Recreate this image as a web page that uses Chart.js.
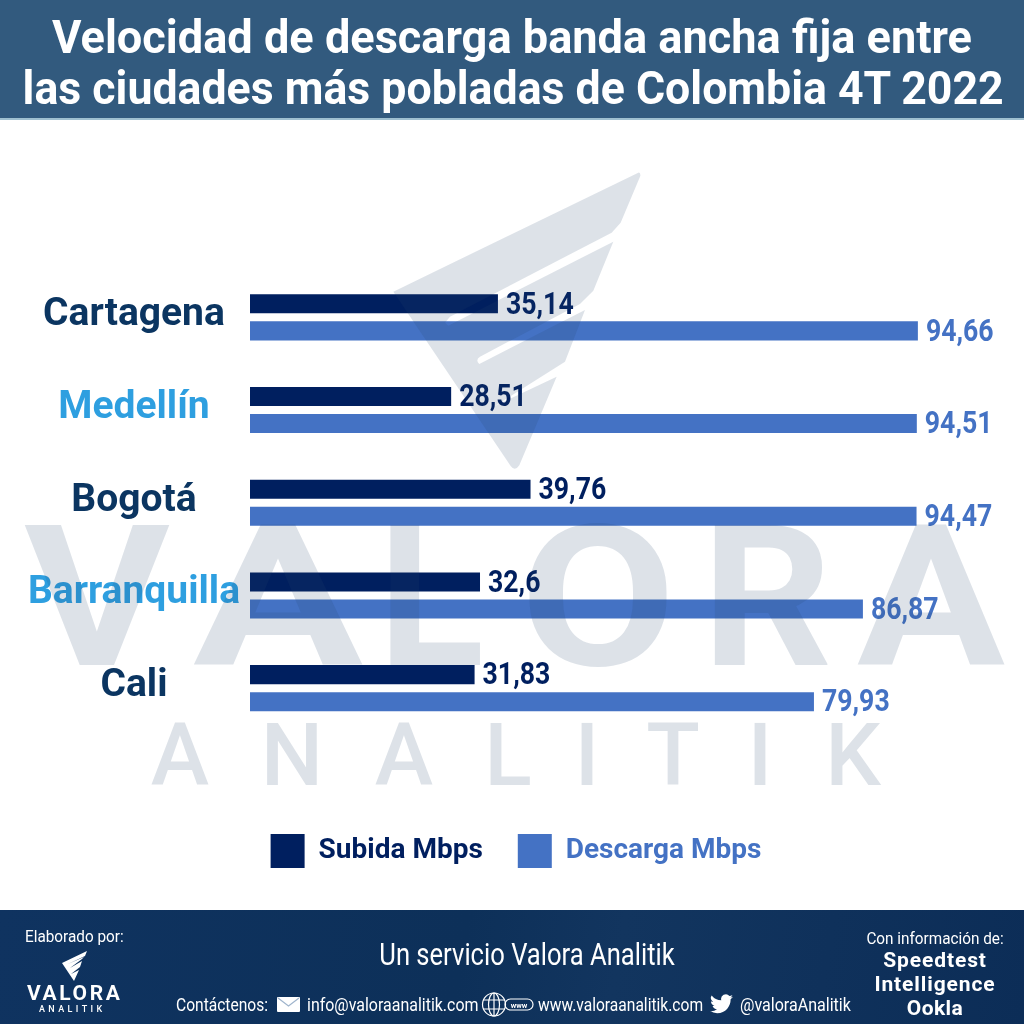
<!DOCTYPE html>
<html>
<head>
<meta charset="utf-8">
<script src="https://cdn.jsdelivr.net/npm/chart.js@4"></script>
<style>
  html, body { margin: 0; padding: 0; background: #fff; }
  #page { position: relative; width: 1024px; height: 1024px; overflow: hidden; font-family: Roboto, sans-serif; }
  #myChart { position: absolute; left: 0; top: 0; }
  #mark { position: absolute; left: 0; top: 0; pointer-events: none; }
  #header { position: absolute; left: 0; top: 0; width: 1024px; height: 118px; background: #325a7e; border-bottom: 2px solid #9fc0d0; }
  #footer { position: absolute; left: 0; top: 910px; width: 1024px; height: 114px; background: linear-gradient(100deg, #0f3360 0%, #0d3059 45%, #12355f 60%, #0c2d57 100%); }
  .t { position: absolute; white-space: nowrap; color: #fff; transform-origin: center; }
  #mark .big { font-family: Roboto; font-weight: 700; font-size: 197px; }
</style>
</head>
<body>
<div id="page">
  <canvas id="myChart" width="1024" height="1024"></canvas>

  <!-- marca de agua encima de las barras -->
  <svg id="mark" width="1024" height="1024" viewBox="0 0 1024 1024">
    <g fill="rgb(40,70,110)" fill-opacity="0.155">
      <g transform="translate(380 160) scale(0.3333)">
        <path fill-rule="evenodd" d="M775,38 L40,395 L392,918 Q405,936 418,916 L530,650 L345,738 L555,605 L615,450 L298,612 Q285,600 300,590 L600,432 L640,392 L700,245 L205,497 L195,488 L210,470 L695,218 L722,188 L781,48 Q782,36 775,38 Z"/>
      </g>
      <text class="big" y="665" x="24" textLength="146" lengthAdjust="spacingAndGlyphs">V</text>
      <text class="big" y="665" x="193" textLength="170" lengthAdjust="spacingAndGlyphs">A</text>
      <text class="big" y="665" x="378" textLength="106" lengthAdjust="spacingAndGlyphs">L</text>
      <text class="big" y="665" x="520" textLength="156" lengthAdjust="spacingAndGlyphs">O</text>
      <text class="big" y="665" x="702" textLength="130" lengthAdjust="spacingAndGlyphs">R</text>
      <text class="big" y="665" x="857" textLength="148" lengthAdjust="spacingAndGlyphs">A</text>
      <text y="785" font-family="Roboto" font-weight="500" font-size="88" text-anchor="middle" x="180 292 404 508 587 673 760 853">ANALITIK</text>
    </g>
  </svg>

  <div id="header">
    <div class="t" style="left:0;width:1024px;text-align:center;top:10px;font-size:47px;line-height:54px;font-weight:700;transform:scaleX(0.96)">Velocidad de descarga banda ancha fija entre</div>
    <div class="t" style="left:-3px;width:1024px;text-align:center;top:61px;font-size:47px;line-height:54px;font-weight:700;transform:scaleX(0.95)">las ciudades más pobladas de Colombia 4T 2022</div>
  </div>

  <div id="footer">
    <div class="t" style="left:25px;top:16px;font-size:17px;transform:scaleX(0.9);transform-origin:left">Elaborado por:</div>
    <svg style="position:absolute;left:60px;top:40px" width="28" height="32" viewBox="0 0 28 32"><path fill="#fff" d="M27,1 L2,13 L14,31 L19,20 L11,24 L20,17 L22,11 L10,18 L22,9 L24,7 L8,14 L25,6 Z"/></svg>
    <div class="t" style="left:27px;top:71px;font-size:21px;font-weight:700;letter-spacing:2.6px">VALORA</div>
    <div class="t" style="left:39px;top:94px;font-size:9px;font-weight:500;letter-spacing:3.4px">ANALITIK</div>

    <div class="t" style="left:0;width:1054px;text-align:center;top:26px;font-size:31px;transform:scaleX(0.825)">Un servicio Valora Analitik</div>

    <div class="t" style="left:176px;top:83px;font-size:19px;transform:scaleX(0.82);transform-origin:left">Contáctenos:</div>
    <svg style="position:absolute;left:277px;top:87px" width="23" height="15" viewBox="0 0 23 15"><rect width="23" height="15" rx="1" fill="#fff"/><path d="M1,1 L11.5,9 L22,1" fill="none" stroke="#9fb4cc" stroke-width="1.2"/></svg>
    <div class="t" style="left:307px;top:83px;font-size:19px;transform:scaleX(0.84);transform-origin:left">info@valoraanalitik.com</div>
    <svg style="position:absolute;left:481px;top:81px" width="54" height="27" viewBox="0 0 54 27"><g fill="none" stroke="#fff" stroke-width="1.2"><circle cx="13" cy="13.5" r="11.5"/><ellipse cx="13" cy="13.5" rx="5.5" ry="11.5"/><path d="M13,2 V25 M2,9 H24 M2,18 H24"/><rect x="24" y="8" width="28" height="11" rx="5.5"/></g><text x="38" y="16.5" text-anchor="middle" font-family="Roboto" font-size="7.5" font-weight="700" fill="#fff">www</text></svg>
    <div class="t" style="left:538px;top:83px;font-size:19px;transform:scaleX(0.82);transform-origin:left">www.valoraanalitik.com</div>
    <svg style="position:absolute;left:710px;top:84px" width="23" height="20" viewBox="0 0 24 20"><path fill="#fff" d="M24,2.4 c-.9,.4 -1.8,.7 -2.8,.8 c1,-.6 1.8,-1.6 2.2,-2.7 c-1,.6 -2,1 -3.1,1.2 A4.9,4.9 0 0 0 11.8,6.2 A14,14 0 0 1 1.7,1 a4.9,4.9 0 0 0 1.5,6.6 c-.8,0 -1.6,-.2 -2.2,-.6 c0,2.4 1.7,4.4 3.9,4.9 c-.7,.2 -1.5,.2 -2.2,.1 c.6,2 2.4,3.4 4.6,3.4 A9.9,9.9 0 0 1 0,17.4 A14,14 0 0 0 7.5,19.6 c9.1,0 14.3,-7.7 14,-14.6 c1,-.7 1.8,-1.6 2.5,-2.6 z"/></svg>
    <div class="t" style="left:740px;top:83px;font-size:19px;transform:scaleX(0.845);transform-origin:left">@valoraAnalitik</div>

    <div class="t" style="left:836px;width:198px;text-align:center;top:18px;font-size:17px;transform:scaleX(0.9)">Con información de:</div>
    <div class="t" style="left:836px;width:198px;text-align:center;top:38px;font-size:21px;font-weight:700;line-height:24px;letter-spacing:0.9px">Speedtest</div>
    <div class="t" style="left:836px;width:198px;text-align:center;top:62px;font-size:21px;font-weight:700;line-height:24px;letter-spacing:0.9px">Intelligence</div>
    <div class="t" style="left:836px;width:198px;text-align:center;top:86px;font-size:21px;font-weight:700;line-height:24px;letter-spacing:0.4px">Ookla</div>
  </div>
</div>

<script>
// datos
const ciudades = ["Cartagena", "Medellín", "Bogotá", "Barranquilla", "Cali"];
const subida = [35.14, 28.51, 39.76, 32.6, 31.83];
const descarga = [94.66, 94.51, 94.47, 86.87, 79.93];
const subidaTxt = ["35,14", "28,51", "39,76", "32,6", "31,83"];
const descargaTxt = ["94,66", "94,51", "94,47", "86,87", "79,93"];
const coloresCiudad = ["#0b3561", "#2e9fe0", "#0b3561", "#2e9fe0", "#0b3561"];

const AZUL_OSCURO = "#001f5f";
const AZUL = "#4472c4";

// etiquetas de valor al final de cada barra
const etiquetasBarras = {
  id: "etiquetasBarras",
  afterDatasetsDraw(chart) {
    const ctx = chart.ctx;
    const textos = [subidaTxt, descargaTxt];
    chart.data.datasets.forEach((ds, i) => {
      chart.getDatasetMeta(i).data.forEach((bar, j) => {
        ctx.save();
        ctx.translate(bar.x + 8, bar.y);
        ctx.scale(0.86, 1);
        ctx.font = "700 31px Roboto";
        ctx.fillStyle = ds.backgroundColor;
        ctx.textAlign = "left";
        ctx.textBaseline = "middle";
        ctx.fillText(textos[i][j], 0, 2);
        ctx.restore();
      });
    });
  },
};

new Chart(document.getElementById("myChart"), {
  type: "bar",
  data: {
    labels: ciudades,
    datasets: [
      { label: "Subida Mbps", data: subida, backgroundColor: AZUL_OSCURO },
      { label: "Descarga Mbps", data: descarga, backgroundColor: AZUL },
    ],
  },
  options: {
    indexAxis: "y",
    responsive: false,
    animation: false,
    categoryPercentage: 0.584,
    barPercentage: 0.704,
    layout: { padding: { top: 271, left: 20, right: 12, bottom: 146 } },
    scales: {
      x: {
        min: 0,
        max: 108,
        grid: { display: false },
        border: { display: false },
        ticks: { display: false },
        afterFit(scale) { scale.height = 64.5; },
      },
      y: {
        grid: { display: false, drawTicks: false },
        border: { display: false },
        ticks: {
          crossAlign: "center",
          padding: 10,
          labelOffset: -2,
          autoSkip: false,
          font: { family: "Roboto", size: 39, weight: "700" },
          color: (c) => coloresCiudad[c.index],
        },
        afterFit(scale) { scale.width = 230; },
      },
    },
    plugins: {
      tooltip: { enabled: false },
      legend: {
        position: "bottom",
        labels: {
          boxWidth: 34,
          boxHeight: 34,
          padding: 35,
          font: { family: "Roboto", size: 28, weight: "700" },
          generateLabels(chart) {
            return chart.data.datasets.map((ds, i) => ({
              text: ds.label,
              fillStyle: ds.backgroundColor,
              strokeStyle: ds.backgroundColor,
              fontColor: ds.backgroundColor,
              lineWidth: 0,
              datasetIndex: i,
            }));
          },
        },
      },
    },
  },
  plugins: [etiquetasBarras],
});
</script>
</body>
</html>
